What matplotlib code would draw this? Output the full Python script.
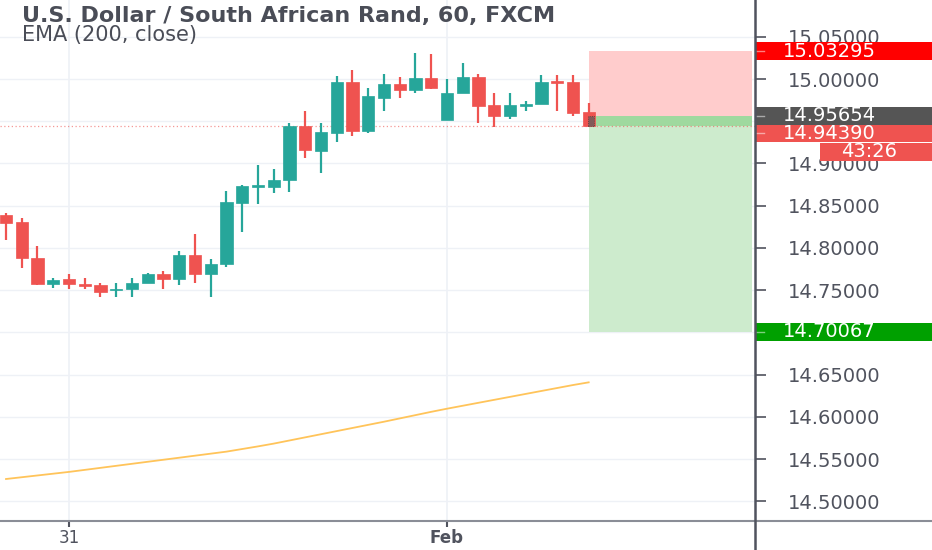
import matplotlib
matplotlib.use("Agg")
import matplotlib.pyplot as plt
from matplotlib.patches import Rectangle
from matplotlib.lines import Line2D

# ---------------- data ----------------
bar_index = list(range(-4, 34))  # hourly bars, 0 = Jan 31 00:00, 24 = Feb 1 00:00
opens = [14.839, 14.831, 14.788, 14.757, 14.763, 14.757, 14.756, 14.750, 14.751, 14.759,
         14.769, 14.763, 14.792, 14.769, 14.781, 14.853, 14.873, 14.872, 14.880, 14.944,
         14.915, 14.936, 14.996, 14.938, 14.978, 14.994, 14.987, 15.001, 14.951, 14.984,
         15.002, 14.969, 14.956, 14.968, 14.970, 14.998, 14.996, 14.961]
highs = [14.842, 14.836, 14.802, 14.765, 14.769, 14.764, 14.759, 14.759, 14.765, 14.770,
         14.773, 14.796, 14.816, 14.787, 14.867, 14.875, 14.898, 14.893, 14.948, 14.962,
         14.948, 15.003, 15.011, 14.989, 15.006, 15.002, 15.031, 15.030, 15.000, 15.019,
         15.006, 14.984, 14.983, 14.974, 15.005, 15.005, 15.005, 14.972]
lows = [14.810, 14.776, 14.756, 14.753, 14.751, 14.751, 14.742, 14.742, 14.742, 14.758,
        14.752, 14.756, 14.759, 14.742, 14.777, 14.819, 14.852, 14.865, 14.866, 14.906,
        14.889, 14.926, 14.933, 14.936, 14.962, 14.977, 14.984, 14.988, 14.951, 14.983,
        14.948, 14.943, 14.953, 14.962, 14.970, 14.962, 14.956, 14.943]
closes = [14.830, 14.788, 14.757, 14.762, 14.757, 14.755, 14.748, 14.752, 14.759, 14.769,
          14.763, 14.792, 14.769, 14.781, 14.854, 14.873, 14.874, 14.880, 14.944, 14.916,
          14.937, 14.996, 14.938, 14.980, 14.994, 14.987, 15.001, 14.989, 14.983, 15.002,
          14.968, 14.956, 14.969, 14.970, 14.997, 14.995, 14.960, 14.9439]
ema200 = [14.5266, 14.5287, 14.5308, 14.5329, 14.5350, 14.5374, 14.5398, 14.5422, 14.5446, 14.5470,
          14.5494, 14.5518, 14.5542, 14.5566, 14.5590, 14.5621, 14.5652, 14.5685, 14.5722, 14.5759,
          14.5796, 14.5833, 14.5870, 14.5907, 14.5944, 14.5983, 14.6022, 14.6061, 14.6098, 14.6133,
          14.6168, 14.6203, 14.6238, 14.6273, 14.6308, 14.6343, 14.6378, 14.6410]

price_ticks = [14.50, 14.55, 14.60, 14.65, 14.70, 14.75, 14.80, 14.85, 14.90, 14.95, 15.00, 15.05]
shown_price_ticks = [14.50, 14.55, 14.60, 14.65, 14.75, 14.80, 14.85, 14.90, 15.00, 15.05]
time_tick_pos = [0, 24]
time_tick_labels = ["31", "Feb"]

stop_price = 15.03295
entry_price = 14.95654
last_price = 14.94390
target_price = 14.70067
countdown = "43:26"
entry_bar = 33
zone_end_bar = 43.4

title = "U.S. Dollar / South African Rand, 60, FXCM"
subtitle = "EMA (200, close)"

# ---------------- style ----------------
UP = "#26a69a"
DOWN = "#ef5350"
TXT = "#50535e"
GRID = "#eef1f6"
AXIS = "#50535e"
LBL = 14

W, H = 932, 550
fig = plt.figure(figsize=(W / 100, H / 100), dpi=100)
fig.patch.set_facecolor("white")

ax_left, ax_bottom, ax_right, ax_top = 0, 29, 755, 550
ax = fig.add_axes([ax_left / W, ax_bottom / H, (ax_right - ax_left) / W, (ax_top - ax_bottom) / H])
ylim = (14.4769, 15.0935)
ax.set_ylim(*ylim)
ax.set_xlim(-4.381, 43.56)

# grid
for p in price_ticks:
    ax.axhline(p, color=GRID, lw=1, zorder=0)
for t in time_tick_pos:
    ax.axvline(t, color=GRID, lw=1.2, zorder=0)

# position zones
ax.add_patch(Rectangle((entry_bar, entry_price), zone_end_bar - entry_bar, stop_price - entry_price,
                       facecolor="#ffcccc", edgecolor="none", zorder=1))
ax.add_patch(Rectangle((entry_bar, target_price), zone_end_bar - entry_bar, entry_price - target_price,
                       facecolor="#cdebcd", edgecolor="none", zorder=1))
ax.add_patch(Rectangle((entry_bar, last_price), zone_end_bar - entry_bar, entry_price - last_price,
                       facecolor="#9fd99f", edgecolor="none", zorder=1))

# current price dotted line
ax.axhline(last_price, color=DOWN, lw=0.9, ls=(0, (1, 2)), alpha=0.6, zorder=2)

# EMA
ax.plot(bar_index, ema200, color="#ffc45a", lw=1.3, zorder=2)

# candles
for x, o, h, l, c in zip(bar_index, opens, highs, lows, closes):
    col = UP if c >= o else DOWN
    ax.vlines(x, l, h, color=col, lw=1.6, zorder=3)
    body = max(abs(c - o), 0.0018)
    bot = min(o, c) if abs(c - o) >= 0.0018 else (o + c) / 2 - 0.0009
    ax.bar(x, body, bottom=bot, width=0.78, color=col, edgecolor=col, lw=0.5, zorder=4)

# entry marker box on last bar
ax.add_patch(Rectangle((entry_bar - 0.05, last_price), 0.38, entry_price - last_price,
                       facecolor="#5d5d5d", edgecolor="#333333", lw=0.6, ls=":", alpha=0.75, zorder=5))

# axes styling
for s in ax.spines.values():
    s.set_visible(False)
ax.yaxis.tick_right()
ax.set_yticks(shown_price_ticks)
ax.set_yticklabels([f"{p:.5f}" for p in shown_price_ticks])
ax.tick_params(axis="y", direction="out", length=8, width=1.2, color=AXIS, pad=16,
               labelsize=LBL, labelcolor=TXT)
ax.set_xticks(time_tick_pos)
ax.set_xticklabels(time_tick_labels)
ax.tick_params(axis="x", direction="out", length=4, width=1.5, color=AXIS, pad=2,
               labelsize=12, labelcolor=TXT)
ax.get_xticklabels()[1].set_fontweight("bold")

# frame lines across the whole figure
fig.add_artist(Line2D([0, 1], [ax_bottom / H, ax_bottom / H], transform=fig.transFigure,
                      color="#8a8d96", lw=1.5))
fig.add_artist(Line2D([ax_right / W, ax_right / W], [0, 1], transform=fig.transFigure,
                      color=AXIS, lw=1.8))

# price label boxes on the right scale
ax2 = fig.add_axes([ax_right / W, ax_bottom / H, (W - ax_right) / W, (ax_top - ax_bottom) / H])
ax2.set_xlim(0, 1)
ax2.set_ylim(*ylim)
ax2.axis("off")
box_h = 0.0209
labels = [
    (stop_price, f"{stop_price:.5f}", "#ff0000"),
    (entry_price, f"{entry_price:.5f}", "#555555"),
    (entry_price - box_h, f"{last_price:.5f}", DOWN),
    (target_price, f"{target_price:.5f}", "#00a000"),
]
for yc, txt, col in labels:
    ax2.add_patch(Rectangle((0, yc - box_h / 2), 1, box_h, facecolor=col, edgecolor="none",
                            clip_on=False, zorder=3))
    ax2.plot([0.0, 0.05], [yc, yc], color="white", lw=1, alpha=0.5, zorder=4)
    ax2.text(0.16, yc, txt, color="white", fontsize=LBL, va="center", ha="left", zorder=4)
cd_y = entry_price - 2 * box_h - 0.001
ax2.add_patch(Rectangle((0.367, cd_y - box_h / 2), 0.633, box_h, facecolor=DOWN, edgecolor="none",
                        clip_on=False, zorder=3))
ax2.text(0.645, cd_y, countdown, color="white", fontsize=LBL, va="center", ha="center", zorder=4)

# titles
fig.text(22 / W, 1 - 16 / H, title, fontsize=16, fontweight="bold", color="#4a4d57", va="center", ha="left")
fig.text(22 / W, 1 - 35 / H, subtitle, fontsize=15, color="#4a4d57", va="center", ha="left")

fig.savefig("out.png", dpi=100, facecolor="white")
